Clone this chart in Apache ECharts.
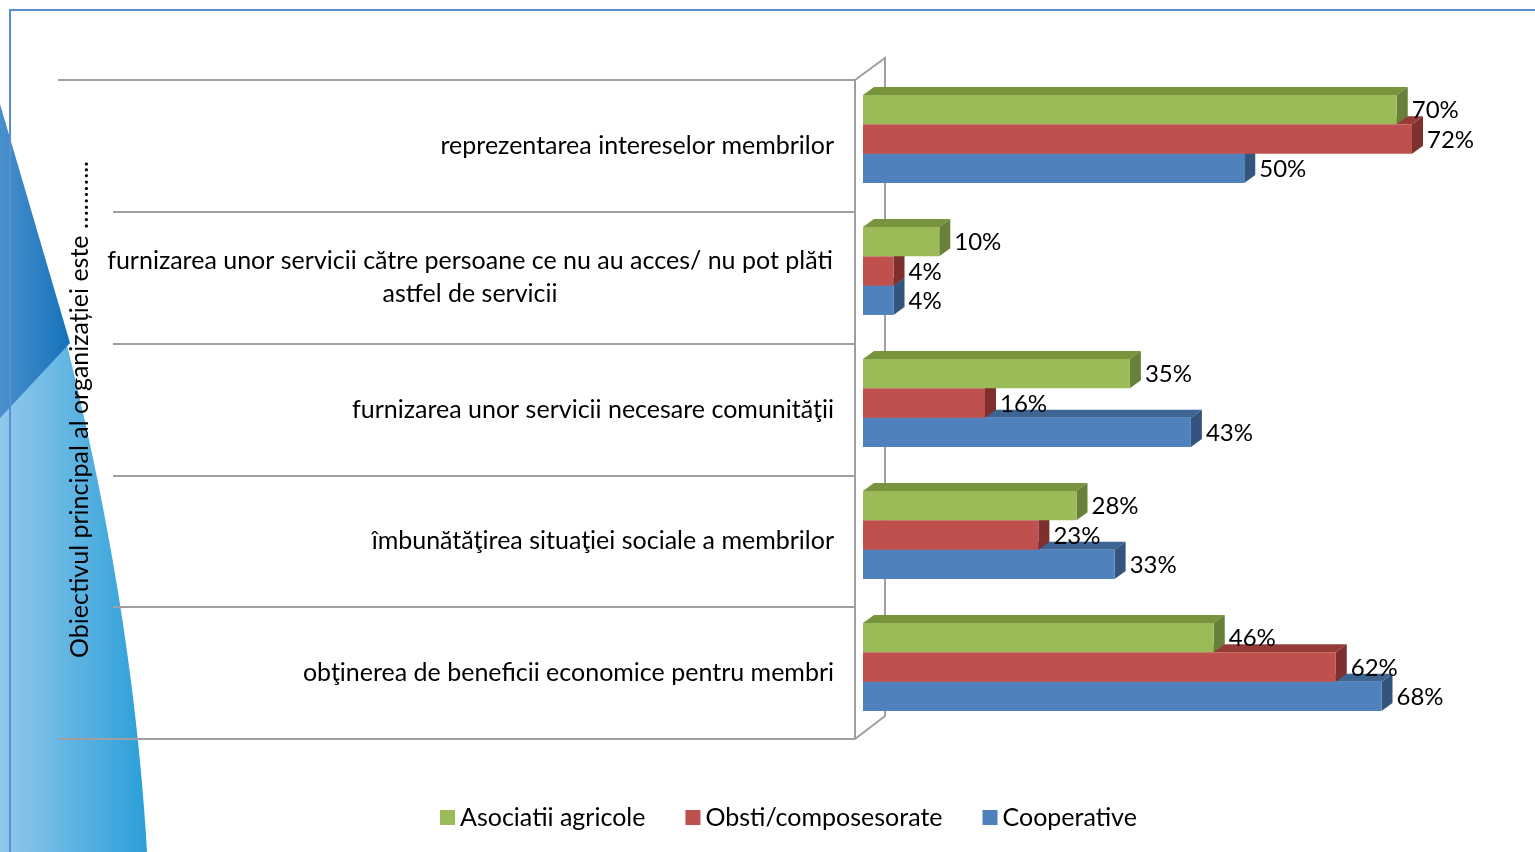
<!DOCTYPE html>
<html>
<head>
<meta charset="utf-8">
<script src="https://cdn.jsdelivr.net/npm/echarts@6/dist/echarts.min.js"></script>
<style>
html, body { margin: 0; padding: 0; background: #fff; }
#chart { width: 1535px; height: 852px; }
</style>
</head>
<body>
<div id="chart"></div>
<script>
// data
var categories = [
	'reprezentarea intereselor membrilor',
	'furnizarea unor servicii către persoane ce nu au acces/ nu pot plăti\nastfel de servicii',
	'furnizarea unor servicii necesare comunităţii',
	'îmbunătăţirea situaţiei sociale a membrilor',
	'obţinerea de beneficii economice pentru membri'
];
var seriesNames = ['Asociatii agricole', 'Obsti/composesorate', 'Cooperative'];
var asociatii = [70, 10, 35, 28, 46];
var obsti = [72, 4, 16, 23, 62];
var cooperative = [50, 4, 43, 33, 68];
var axisTitle = 'Obiectivul principal al organizației este ………..';

var FONT = 'Lato, "Liberation Sans", sans-serif';
var FS = 25;
var DEPTH_X = 11, DEPTH_Y = 8;
var BAR_FRAC = 0.222;
var GRAY = '#9f9f9f';

// front, top face, side face
var COLORS = [
	['#9bbb59', '#77933c', '#67813a'],
	['#c0504d', '#963a37', '#7d302e'],
	['#4f81bd', '#3c6594', '#33547d']
];

function hGradient(from, to){
	return {type: 'linear', x: 0, y: 0, x2: 1, y2: 0,
		colorStops: [{offset: 0, color: from}, {offset: 1, color: to}]};
}

// left decoration outline (cubic curve sampled to a polygon)
function swooshPoints(){
	var p = [[0, 108], [60, 300], [130, 560], [147, 852]];
	var pts = [];
	for(var i = 0; i <= 40; i++){
		var t = i / 40, u = 1 - t;
		var a = u*u*u, b = 3*u*u*t, c = 3*u*t*t, d = t*t*t;
		pts.push([a*p[0][0] + b*p[1][0] + c*p[2][0] + d*p[3][0],
			a*p[0][1] + b*p[1][1] + c*p[2][1] + d*p[3][1]]);
	}
	pts.push([0, 852]);
	return pts;
}

var CHART = {
	chart: null,

	ini: function(){
		this.chart = echarts.init(document.getElementById('chart'), null, {renderer: 'canvas'});
		this.chart.setOption(this.getOption());
	},

	// two line labels are centred, like in the original
	labelFormatter: function(value){
		if(value.indexOf('\n') < 0){
			return value;
		}
		var lines = value.split('\n');
		return lines.map(function(l){ return '{c|' + l + '}'; }).join('\n');
	},

	measure: function(text){
		var ctx = document.createElement('canvas').getContext('2d');
		ctx.font = FS + 'px ' + FONT;
		return Math.ceil(ctx.measureText(text).width);
	},

	renderBar: function(k){
		return function(params, api){
			var v = api.value(0);
			var c = api.value(1);
			var p0 = api.coord([0, c]);
			var p1 = api.coord([v, c]);
			var band = api.size([0, 1])[1];
			var h = band * BAR_FRAC;
			var top = p0[1] - 1.5 * h + k * h;
			var x0 = p0[0], x1 = p1[0], bot = top + h;
			var col = COLORS[k];
			return {
				type: 'group',
				children: [
					{
						type: 'polygon',
						shape: {points: [[x0, top], [x0 + DEPTH_X, top - DEPTH_Y], [x1 + DEPTH_X, top - DEPTH_Y], [x1, top]]},
						style: {fill: col[1]}
					},
					{
						type: 'polygon',
						shape: {points: [[x1, top], [x1 + DEPTH_X, top - DEPTH_Y], [x1 + DEPTH_X, bot - DEPTH_Y], [x1, bot]]},
						style: {fill: col[2]}
					},
					{
						type: 'rect',
						shape: {x: x0, y: top, width: x1 - x0, height: h},
						style: {fill: col[0]}
					},
					{
						type: 'text',
						style: {
							text: v + '%',
							x: x1 + DEPTH_X + 4,
							y: top + h / 2 + 1,
							fill: '#000',
							fontSize: 24,
							fontFamily: FONT,
							align: 'left',
							verticalAlign: 'middle'
						}
					}
				]
			};
		};
	},

	getOption: function(){
		var me = this;
		var lineW = me.measure(categories[1].split('\n')[0]) + 2;
		var data = [asociatii, obsti, cooperative];

		var series = [];
		for(var k = 0; k < 3; k++){
			series.push({
				name: seriesNames[k],
				type: 'custom',
				xAxisIndex: 1,
				yAxisIndex: 1,
				z: 10 - k,
				renderItem: me.renderBar(k),
				encode: {x: 0, y: 1},
				data: data[k].map(function(v, i){ return [v, i]; })
			});
		}

		return {
			animation: false,
			backgroundColor: '#fff',
			color: [COLORS[0][0], COLORS[1][0], COLORS[2][0]],
			legend: {
				left: 440,
				top: 805,
				padding: 0,
				icon: 'rect',
				itemWidth: 15,
				itemHeight: 15,
				itemGap: 40,
				data: seriesNames,
				textStyle: {fontSize: FS, color: '#000', fontFamily: FONT}
			},
			grid: [
				{left: 855, top: 80, width: 30, height: 659},
				{left: 863, top: 73, width: 610, height: 660}
			],
			xAxis: [
				{gridIndex: 0, type: 'value', show: false},
				{gridIndex: 1, type: 'value', min: 0, max: 80, show: false}
			],
			yAxis: [
				{
					gridIndex: 0,
					type: 'category',
					inverse: true,
					data: categories,
					z: 5,
					name: axisTitle,
					nameLocation: 'middle',
					nameRotate: 90,
					nameGap: 763,
					nameTextStyle: {fontSize: FS, color: '#000', fontFamily: FONT},
					axisLine: {show: true, lineStyle: {color: GRAY, width: 2}},
					axisTick: {show: true, length: 742, lineStyle: {color: GRAY, width: 2}},
					splitLine: {show: false},
					axisLabel: {
						margin: 21,
						fontSize: FS,
						color: '#000',
						fontFamily: FONT,
						lineHeight: 33,
						formatter: me.labelFormatter,
						rich: {c: {width: lineW, align: 'center', fontSize: FS, fontFamily: FONT, color: '#000', lineHeight: 33}}
					}
				},
				{gridIndex: 1, type: 'category', inverse: true, data: categories, show: false}
			],
			graphic: [
				{
					type: 'polygon', z: -20, silent: true,
					shape: {points: swooshPoints()},
					style: {fill: hGradient('#93c8ec', '#2a9fd8')}
				},
				{
					type: 'polygon', z: -19, silent: true,
					shape: {points: [[0, 104], [70, 343], [0, 418]]},
					style: {fill: hGradient('#4a8fcc', '#1572bb')}
				},
				{
					type: 'rect', z: -18, silent: true,
					shape: {x: 10, y: 10, width: 1600, height: 900},
					style: {fill: null, stroke: '#5b8dd3', lineWidth: 2}
				},
				// 3d wall
				{
					type: 'polyline', z: 1, silent: true,
					shape: {points: [[855, 80], [885, 58], [885, 716], [855, 739]]},
					style: {fill: null, stroke: GRAY, lineWidth: 2}
				},
				{
					type: 'line', z: 1, silent: true,
					shape: {x1: 58, y1: 80, x2: 114, y2: 80},
					style: {stroke: GRAY, lineWidth: 2}
				},
				{
					type: 'line', z: 1, silent: true,
					shape: {x1: 58, y1: 739, x2: 114, y2: 739},
					style: {stroke: GRAY, lineWidth: 2}
				}
			],
			series: series
		};
	}
};

CHART.ini();
</script>
</body>
</html>
